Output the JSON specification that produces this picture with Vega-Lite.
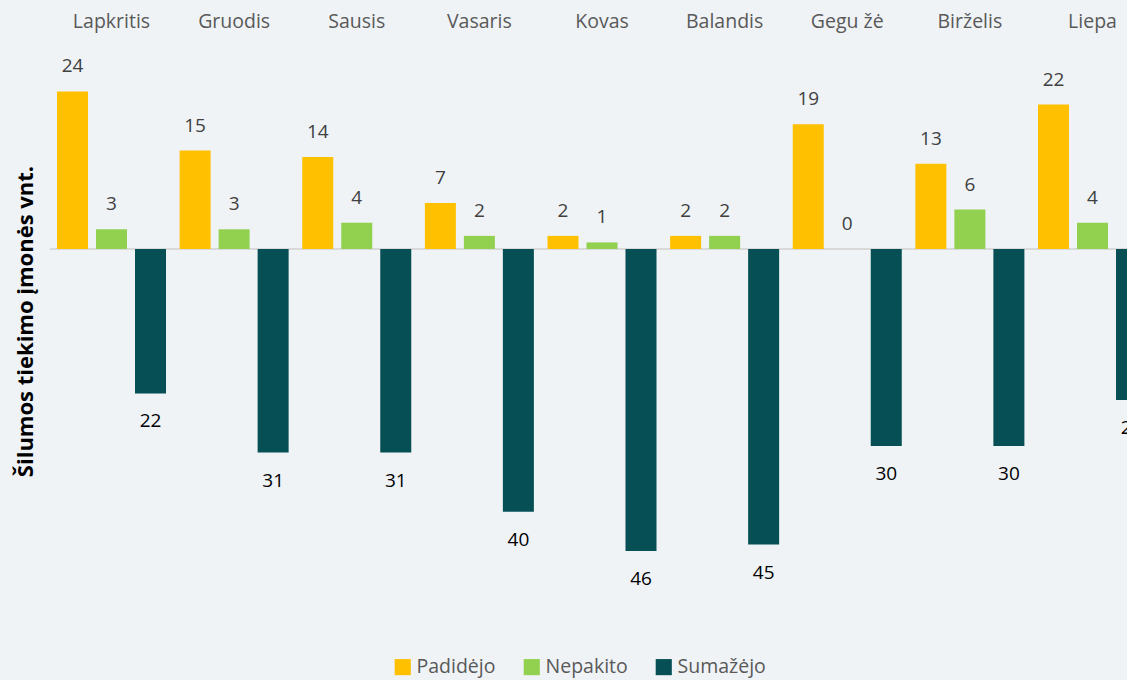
{
  "$schema": "https://vega.github.io/schema/vega-lite/v6.json",
  "autosize": {"type": "none"},
  "width": 1077,
  "height": 591,
  "padding": {"left": 50, "top": 52, "right": 0, "bottom": 37},
  "background": "#eff3f6",
  "config": {
    "view": {"stroke": null},
    "font": "Open Sans",
    "axis": {"labelFont": "Open Sans", "titleFont": "Open Sans"},
    "legend": {"labelFont": "Open Sans"}
  },
  "data": {
    "values": [
      {"m": "Lapkritis", "s": "Padidėjo", "v": 24, "lab": "24"},
      {"m": "Lapkritis", "s": "Nepakito", "v": 3, "lab": "3"},
      {"m": "Lapkritis", "s": "Sumažėjo", "v": -22, "lab": "22"},
      {"m": "Gruodis", "s": "Padidėjo", "v": 15, "lab": "15"},
      {"m": "Gruodis", "s": "Nepakito", "v": 3, "lab": "3"},
      {"m": "Gruodis", "s": "Sumažėjo", "v": -31, "lab": "31"},
      {"m": "Sausis", "s": "Padidėjo", "v": 14, "lab": "14"},
      {"m": "Sausis", "s": "Nepakito", "v": 4, "lab": "4"},
      {"m": "Sausis", "s": "Sumažėjo", "v": -31, "lab": "31"},
      {"m": "Vasaris", "s": "Padidėjo", "v": 7, "lab": "7"},
      {"m": "Vasaris", "s": "Nepakito", "v": 2, "lab": "2"},
      {"m": "Vasaris", "s": "Sumažėjo", "v": -40, "lab": "40"},
      {"m": "Kovas", "s": "Padidėjo", "v": 2, "lab": "2"},
      {"m": "Kovas", "s": "Nepakito", "v": 1, "lab": "1"},
      {"m": "Kovas", "s": "Sumažėjo", "v": -46, "lab": "46"},
      {"m": "Balandis", "s": "Padidėjo", "v": 2, "lab": "2"},
      {"m": "Balandis", "s": "Nepakito", "v": 2, "lab": "2"},
      {"m": "Balandis", "s": "Sumažėjo", "v": -45, "lab": "45"},
      {"m": "Gegu žė", "s": "Padidėjo", "v": 19, "lab": "19"},
      {"m": "Gegu žė", "s": "Nepakito", "v": 0, "lab": "0"},
      {"m": "Gegu žė", "s": "Sumažėjo", "v": -30, "lab": "30"},
      {"m": "Birželis", "s": "Padidėjo", "v": 13, "lab": "13"},
      {"m": "Birželis", "s": "Nepakito", "v": 6, "lab": "6"},
      {"m": "Birželis", "s": "Sumažėjo", "v": -30, "lab": "30"},
      {"m": "Liepa", "s": "Padidėjo", "v": 22, "lab": "22"},
      {"m": "Liepa", "s": "Nepakito", "v": 4, "lab": "4"},
      {"m": "Liepa", "s": "Sumažėjo", "v": -23, "lab": "23"}
    ]
  },
  "encoding": {
    "x": {
      "field": "m", "type": "nominal", "sort": null,
      "scale": {"range": [0, 1104], "paddingInner": 0.111, "paddingOuter": 0.057},
      "axis": {"orient": "top", "title": null, "labelAngle": 0, "ticks": false, "domain": false,
               "labelFontSize": 19.5, "labelColor": "#595959", "labelPadding": 21}
    },
    "xOffset": {
      "field": "s", "type": "nominal", "sort": ["Padidėjo", "Nepakito", "Sumažėjo"],
      "scale": {"paddingInner": 0.205, "paddingOuter": 0}
    },
    "y": {
      "field": "v", "type": "quantitative",
      "scale": {"domain": [-60, 30], "nice": false, "zero": false},
      "axis": {"title": "Šilumos tiekimo įmonės vnt.", "labels": false, "ticks": false, "domain": false,
               "grid": false, "titleFontSize": 22, "titleFontWeight": "bold", "titleColor": "#000000",
               "titlePadding": 13, "titleY": 269}
    }
  },
  "layer": [
    {
      "mark": {"type": "rule", "color": "#d9d9d9", "strokeWidth": 2},
      "encoding": {"y": {"datum": 0}, "x": null, "xOffset": null}
    },
    {
      "mark": {"type": "bar", "clip": true},
      "encoding": {
        "color": {
          "field": "s", "type": "nominal",
          "sort": ["Padidėjo", "Nepakito", "Sumažėjo"],
          "scale": {"domain": ["Padidėjo", "Nepakito", "Sumažėjo"], "range": ["#FFC000", "#92D050", "#064F55"]},
          "legend": {"orient": "none", "legendX": 343, "legendY": 605, "direction": "horizontal", "title": null,
                     "symbolType": "square", "symbolSize": 260, "symbolStrokeWidth": 0, "symbolOpacity": 1,
                     "labelFontSize": 19.5, "labelColor": "#595959", "columnPadding": 26, "labelOffset": 4}
        }
      }
    },
    {
      "transform": [{"filter": "datum.v >= 0"}],
      "mark": {"type": "text", "baseline": "middle", "dy": -25, "fontSize": 19, "color": "#404040", "clip": true},
      "encoding": {"text": {"field": "lab"}}
    },
    {
      "transform": [{"filter": "datum.v < 0"}],
      "mark": {"type": "text", "baseline": "middle", "dy": 28, "fontSize": 19, "color": "#000000", "clip": true},
      "encoding": {"text": {"field": "lab"}}
    }
  ]
}
